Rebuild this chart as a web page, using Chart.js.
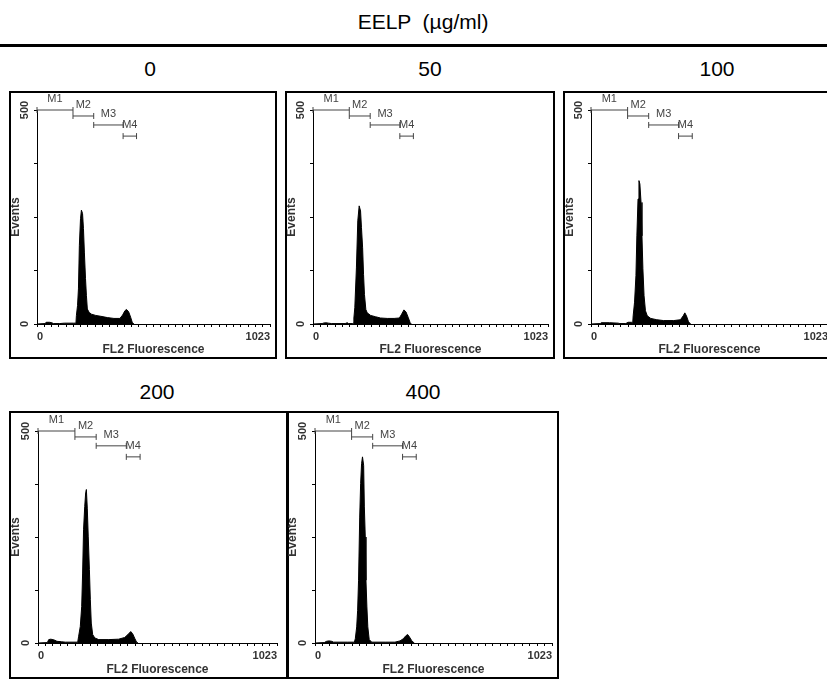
<!DOCTYPE html>
<html>
<head>
<meta charset="utf-8">
<script src="https://cdn.jsdelivr.net/npm/chart.js@4.4.1/dist/chart.umd.min.js"></script>
<style>
  body { margin: 0; width: 827px; height: 679px; overflow: hidden; background: #fff; position: relative;
         font-family: "Liberation Sans", Arial, sans-serif; }
  .lbl { position: absolute; font-size: 21px; color: #000; transform: translate(-50%, -50%); white-space: pre; }
  .rule { position: absolute; left: 0; top: 44px; width: 827px; height: 3px; background: #000; }
  .box { position: absolute; border: 2px solid #000; box-sizing: border-box; }
  .box canvas { display: block; }
</style>
</head>
<body>
<div class="lbl" style="left:423px;top:22px">EELP  (µg/ml)</div>
<div class="rule"></div>
<div class="lbl" style="left:150px;top:69px">0</div>
<div class="lbl" style="left:430px;top:69px">50</div>
<div class="lbl" style="left:717px;top:69px">100</div>
<div class="lbl" style="left:157px;top:392px">200</div>
<div class="lbl" style="left:423px;top:392px">400</div>

<div class="box" id="b0"><canvas id="c0"></canvas></div>
<div class="box" id="b1"><canvas id="c1"></canvas></div>
<div class="box" id="b2"><canvas id="c2"></canvas></div>
<div class="box" id="b3"><canvas id="c3"></canvas></div>
<div class="box" id="b4"><canvas id="c4"></canvas></div>

<script>
// histogram data: FL2 channel -> events
const ch0 = [0, 35, 40, 55, 65, 72, 100, 120, 160, 171, 173, 178, 182, 186, 191, 195, 200, 204, 208, 213, 217, 221, 229, 239, 258, 280, 309, 338, 364, 376, 386, 393, 402, 411, 418, 425];
const ev0 = [0, 1, 4, 4, 3, 1, 1, 2, 2, 2, 20, 43, 82, 184, 246, 266, 258, 223, 168, 106, 66, 35, 27, 23, 20, 18, 15, 13, 13, 21, 31, 34, 29, 16, 4, 0];

const ch50 = [0, 40, 44, 55, 68, 80, 140, 149, 155, 172, 176, 178, 182, 189, 195, 201, 207, 211, 216, 220, 224, 230, 236, 251, 272, 294, 323, 353, 376, 386, 396, 405, 414, 423, 428];
const ev50 = [0, 1, 2, 3, 2, 1, 1, 3, 1, 1, 2, 14, 38, 131, 241, 276, 264, 225, 178, 116, 69, 34, 26, 20, 17, 14, 13, 13, 14, 23, 33, 28, 16, 3, 0];

const ch100 = [0, 40, 44, 80, 117, 125, 150, 160, 175, 180, 182, 188, 194, 198, 203, 207, 211, 216, 220, 224, 229, 235, 243, 258, 284, 313, 357, 386, 398, 405, 412, 421, 430];
const ev100 = [0, 1, 3, 3, 2, 1, 1, 4, 4, 2, 19, 51, 113, 206, 292, 335, 327, 284, 206, 129, 66, 31, 19, 13, 10, 8, 8, 10, 19, 26, 19, 5, 0];

const ch200 = [0, 40, 46, 55, 70, 81, 100, 117, 170, 174, 181, 187, 191, 195, 200, 204, 207, 211, 215, 220, 224, 228, 234, 243, 260, 303, 345, 371, 385, 397, 405, 414, 422, 428];
const ev200 = [0, 1, 8, 9, 7, 4, 3, 2, 2, 16, 39, 86, 165, 267, 322, 354, 362, 318, 252, 173, 102, 47, 20, 12, 8, 8, 9, 13, 20, 27, 22, 11, 2, 0];

const ch400 = [0, 40, 50, 60, 72, 80, 140, 170, 174, 180, 184, 188, 193, 197, 201, 205, 210, 213, 217, 220, 224, 228, 234, 245, 303, 345, 367, 381, 392, 400, 408, 417, 428];
const ev400 = [0, 1, 4, 5, 4, 2, 2, 2, 10, 38, 77, 148, 297, 376, 423, 439, 419, 321, 250, 148, 85, 38, 8, 2, 2, 2, 5, 10, 17, 20, 14, 6, 0];

// M1..M4 gates
const markerNames = ['M1', 'M2', 'M3', 'M4'];
const markerStart = [0, 158, 249, 378];
const markerEnd = [158, 249, 378, 437];
const markerLevel = [500, 486, 465, 439];

const xTickLabels = [0, 1023];
const yTickLabels = [0, 500];

// box: left, top, width, height ; inset: distance from box edge to plot area
const panels = [
    { ch: ch0, ev: ev0, box: [9, 91, 268, 268], inset: [28, 19, 7, 35] },
    { ch: ch50, ev: ev50, box: [285, 91, 270, 268], inset: [28, 19, 7, 35] },
    { ch: ch100, ev: ev100, box: [563, 91, 272, 268], inset: [28, 19, 7, 35] },
    { ch: ch200, ev: ev200, box: [9, 411, 280, 268], inset: [29, 20, 12, 36] },
    { ch: ch400, ev: ev400, box: [286, 411, 273, 268], inset: [29, 20, 5, 36] }
];

const textColor = '#333';

const markerLabels = {
    id: 'markerLabels',
    afterDatasetsDraw(chart) {
        const ctx = chart.ctx;
        const xs = chart.scales.x, ys = chart.scales.y;
        ctx.save();
        ctx.font = '11px "Liberation Sans", Arial';
        ctx.fillStyle = '#444';
        ctx.textAlign = 'center';
        ctx.textBaseline = 'middle';
        markerNames.forEach((name, i) => {
            const x = xs.getPixelForValue((markerStart[i] + markerEnd[i]) / 2);
            const y = ys.getPixelForValue(markerLevel[i]) - 11;
            ctx.fillText(name, x, y);
        });
        ctx.restore();
    }
};

function drawPanel(p, i) {
    const box = document.getElementById('b' + i);
    box.style.left = p.box[0] + 'px';
    box.style.top = p.box[1] + 'px';
    box.style.width = p.box[2] + 'px';
    box.style.height = p.box[3] + 'px';
    const canvas = document.getElementById('c' + i);
    canvas.width = p.box[2] - 4;
    canvas.height = p.box[3] - 4;

    const [il, it, ir, ib] = p.inset;

    const datasets = [{
        data: p.ch.map((c, k) => ({ x: c, y: p.ev[k] })),
        borderColor: '#000',
        backgroundColor: '#000',
        borderWidth: 1,
        pointRadius: 0,
        fill: 'origin'
    }];
    markerNames.forEach((name, k) => {
        datasets.push({
            data: [{ x: markerStart[k], y: markerLevel[k] }, { x: markerEnd[k], y: markerLevel[k] }],
            borderColor: '#444',
            borderWidth: 1,
            pointStyle: 'line',
            rotation: 90,
            pointRadius: 3,
            pointBorderColor: '#444',
            pointBorderWidth: 1,
            fill: false,
            clip: false
        });
    });

    new Chart(canvas, {
        type: 'line',
        data: { datasets: datasets },
        options: {
            responsive: false,
            animation: false,
            devicePixelRatio: 1,
            layout: { padding: { left: 0, top: it - 2, right: ir - 2, bottom: 0 } },
            plugins: { legend: { display: false }, tooltip: { enabled: false } },
            scales: {
                x: {
                    type: 'linear',
                    min: 0,
                    max: 1023,
                    afterFit: (s) => { s.height = ib - 2; },
                    border: { color: '#000', width: 1 },
                    grid: { drawOnChartArea: false, tickLength: 3, color: '#000' },
                    ticks: {
                        stepSize: 32,
                        maxTicksLimit: 40,
                        autoSkip: false,
                        maxRotation: 0,
                        align: 'inner',
                        padding: 3,
                        color: textColor,
                        font: { family: '"Liberation Sans", Arial', size: 11, weight: 'bold' },
                        callback: (v) => xTickLabels.includes(v) ? String(v) : ''
                    },
                    title: {
                        display: true,
                        text: 'FL2 Fluorescence',
                        color: textColor,
                        padding: 0,
                        font: { family: '"Liberation Sans", Arial', size: 12, weight: 'bold' }
                    }
                },
                y: {
                    min: 0,
                    max: 500,
                    afterFit: (s) => { s.width = il - 2; },
                    border: { color: '#000', width: 1 },
                    grid: { drawOnChartArea: false, tickLength: 3, color: '#000' },
                    ticks: {
                        stepSize: 125,
                        minRotation: 90,
                        maxRotation: 90,
                        crossAlign: 'center',
                        padding: 0,
                        color: textColor,
                        font: { family: '"Liberation Sans", Arial', size: 11, weight: 'bold' },
                        callback: (v) => yTickLabels.includes(v) ? String(v) : ''
                    },
                    title: {
                        display: true,
                        text: 'Events',
                        color: textColor,
                        padding: 0,
                        font: { family: '"Liberation Sans", Arial', size: 12, weight: 'bold', lineHeight: 0.8 }
                    }
                }
            }
        },
        plugins: [markerLabels]
    });
}

panels.forEach(drawPanel);
</script>
</body>
</html>
